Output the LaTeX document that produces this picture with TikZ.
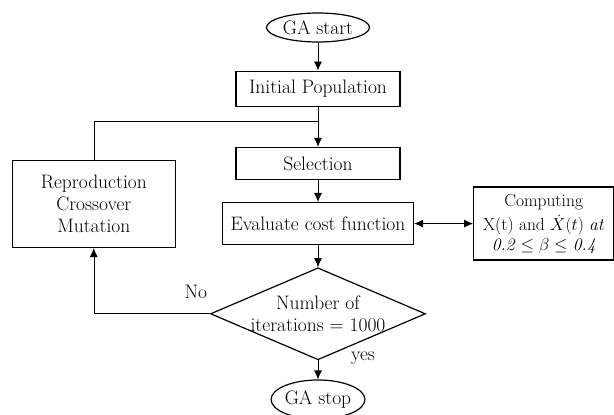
\documentclass[tikz,border=0pt]{standalone}
\usepackage{amsmath,amssymb}
\usepackage{tikz}
\usetikzlibrary{arrows.meta, shapes, positioning}

\begin{document}
\begin{tikzpicture}[x=1pt, y=1pt, font=\fontsize{19.5}{22}\selectfont,
  term/.style={ellipse, draw, line width=1.2pt, inner sep=0pt},
  block/.style={rectangle, draw, line width=1.2pt, inner sep=0pt, align=center},
  test/.style={diamond, draw, line width=1.2pt, inner sep=0pt, minimum width=215pt, minimum height=92pt},
  flow/.style={line width=0.8pt, -{Latex[length=9pt,width=8pt]}},
  loop/.style={line width=0.6pt}]
\useasboundingbox (0,0) rectangle (614,415);
\node[term, minimum width=103pt, minimum height=29pt] (start) at (318,387.5) {GA start};
\node[block, minimum width=164pt, minimum height=35pt, below=28pt of start] (init) {Initial Population};
\node[block, minimum width=164pt, minimum height=32pt, below=40pt of init] (sel) {Selection};
\node[block, minimum width=191pt, minimum height=42pt, below=22pt of sel] (eval) {Evaluate cost function};
\node[test, below=22pt of eval, label={[name=iter-text, align=center]center:Number of\\iterations = 1000}] (iter) {};
\node[term, minimum width=93pt, minimum height=39pt, below=19pt of iter] (stop) {GA stop};
\node[block, minimum width=140pt, minimum height=73pt, right=59pt of eval, font=\fontsize{17.5}{21.5}\selectfont] (comp)
  {Computing\\[3pt]X(t) and $\dot{X}(t)$ \textit{at}\\[-2pt]\textit{0.2} $\leq\beta\leq$ \textit{0.4}};
\node[block, minimum width=163pt, minimum height=87pt, left=46pt of eval, yshift=19.5pt] (repro)
  {Reproduction\\Crossover\\Mutation};
\coordinate[above=25pt of sel] (merge);
\node (no) at ([xshift=-14pt, yshift=22pt]iter.west) {No};
\node (yes) at ([xshift=45pt, yshift=2pt]iter.south) {yes};

\draw[flow] (start) -- (init);
\draw[flow] (init) -- (sel);
\draw[flow] (sel) -- (eval);
\draw[flow] (eval) -- (iter);
\draw[flow] (iter) -- (stop);
\draw[line width=0.8pt, {Latex[length=9pt,width=8pt]}-{Latex[length=9pt,width=8pt]}] (eval) -- (comp);
\draw[flow, loop] (iter.west) -| (repro.south);
\draw[loop] (repro.north) |- (merge);
\end{tikzpicture}
\end{document}
